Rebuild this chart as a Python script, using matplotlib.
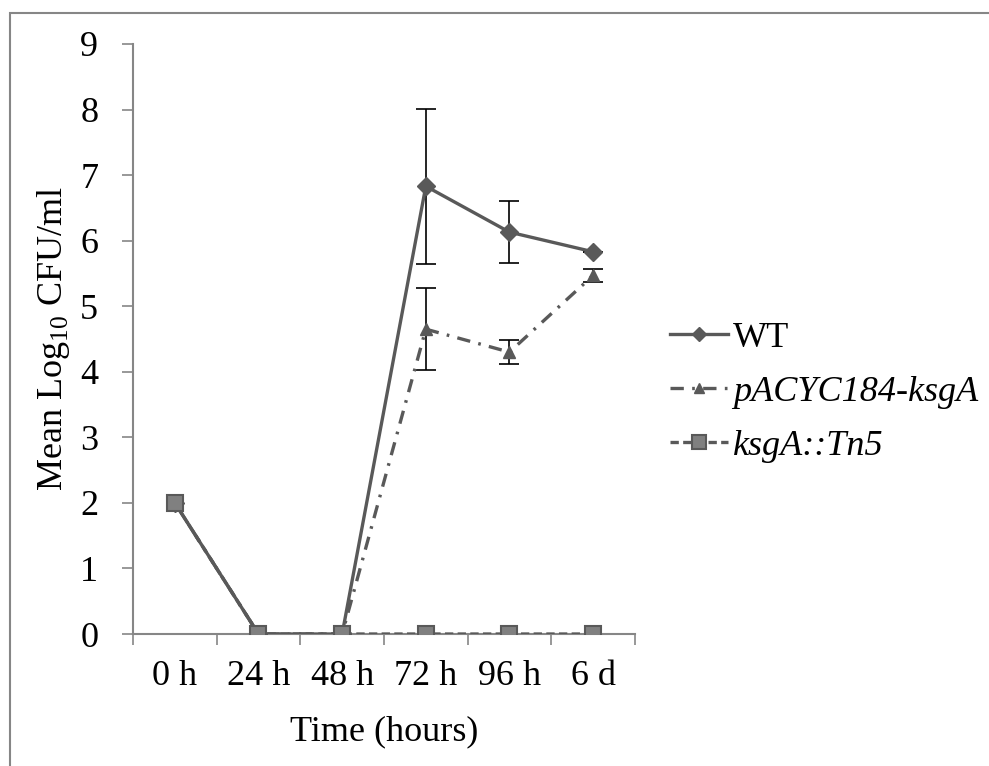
import matplotlib
matplotlib.use("Agg")
import matplotlib.pyplot as plt
from matplotlib.patches import Rectangle
import numpy as np

plt.rcParams['font.family'] = ['Liberation Serif', 'DejaVu Serif']
plt.rcParams['mathtext.fontset'] = 'custom'
plt.rcParams['mathtext.rm'] = 'Liberation Serif'

times = ['0 h', '24 h', '48 h', '72 h', '96 h', '6 d']
wt = [2.0, 0.0, 0.0, 6.83, 6.13, 5.83]
wt_err = [0, 0, 0, 1.18, 0.47, 0.0]
pacyc = [2.0, 0.0, 0.0, 4.65, 4.30, 5.47]
pacyc_err = [0, 0, 0, 0.63, 0.18, 0.10]
ksga = [2.0, 0.0, 0.0, 0.0, 0.0, 0.0]

line_col = '#595959'
axis_col = '#868686'
fs = 26

fig = plt.figure(figsize=(9.89, 7.66), dpi=100)
ax = fig.add_axes([0.1345, 0.1723, 0.5075, 0.7703])

# outer chart frame
fig.patches.append(Rectangle((10 / 989, -0.1), 1.2, 1 - 13 / 766 + 0.1,
                             transform=fig.transFigure, fill=False,
                             edgecolor=axis_col, linewidth=1.5))

x = np.arange(len(times))

# error bars (no caps on zero-error points)
err_kw = dict(fmt='none', ecolor='black', elinewidth=1.2, capsize=7, capthick=1.2, zorder=2)
ax.errorbar(x[3:], wt[3:], yerr=wt_err[3:], **err_kw)
ax.errorbar(x[3:], pacyc[3:], yerr=pacyc_err[3:], **err_kw)

h_wt, = ax.plot(x, wt, color=line_col, lw=2.4, marker='D', ms=9, label='WT', zorder=3)
h_pa, = ax.plot(x, pacyc, color=line_col, lw=2.4, marker='^', ms=9,
                dashes=(4, 2.5, 0.8, 2.5), label='pACYC184-ksgA', zorder=3)
h_ks, = ax.plot(x, ksga, color=line_col, lw=2.4, dashes=(2.5, 1.3), marker='s', ms=12,
                markerfacecolor='#808080', markeredgecolor=line_col, markeredgewidth=1.5,
                label='ksgA::Tn5', zorder=4)

ax.set_xlim(-0.5, len(times) - 0.5)
ax.set_ylim(0, 9)
ax.set_yticks(range(10))

ax.set_xticks(np.arange(-0.5, len(times), 1.0))
ax.set_xticklabels([])
ax.set_xticks(x, minor=True)
ax.set_xticklabels(times, minor=True)
ax.tick_params(axis='x', which='major', direction='out', length=8, width=1.2, color=axis_col)
ax.tick_params(axis='x', which='minor', length=0, pad=19, labelsize=fs)
ax.tick_params(axis='y', direction='out', length=8, width=1.2, color=axis_col,
               pad=17, labelsize=fs)

for side in ['top', 'right']:
    ax.spines[side].set_visible(False)
for side in ['left', 'bottom']:
    ax.spines[side].set_color(axis_col)
    ax.spines[side].set_linewidth(1.5)

ax.set_ylabel(r'Mean Log$_{10}$ CFU/ml', fontsize=fs, labelpad=6)
ax.set_xlabel('Time (hours)', fontsize=fs, labelpad=16)

leg = ax.legend(handles=[h_wt, h_pa, h_ks], loc='center left',
                bbox_to_anchor=(1.041, 0.41), frameon=False,
                fontsize=fs, handlelength=1.6, handletextpad=0.14,
                labelspacing=0.58, borderaxespad=0, markerscale=0.8)
for t in leg.get_texts()[1:]:
    t.set_style('italic')

fig.savefig('out.png', dpi=100)
